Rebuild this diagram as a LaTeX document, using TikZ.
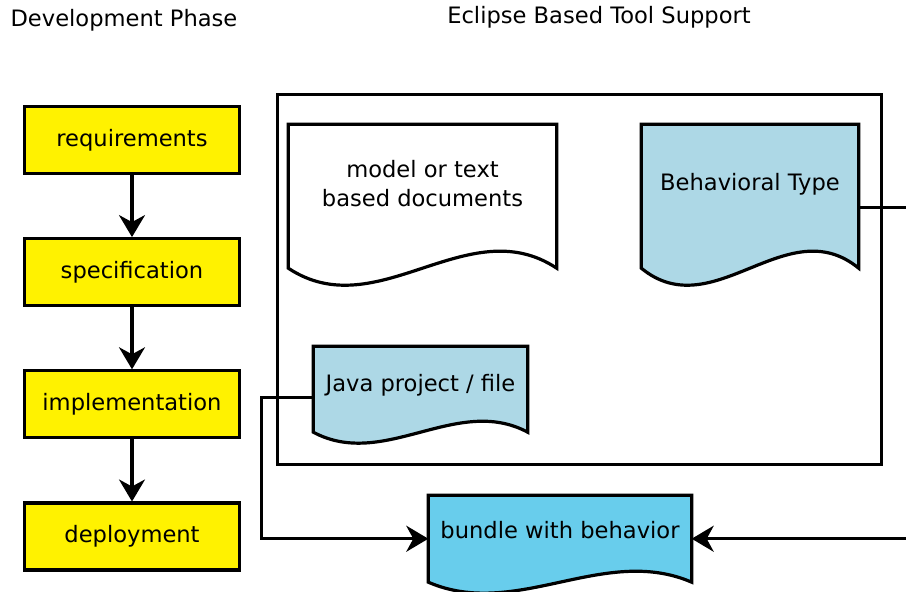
\documentclass[tikz,border=0pt]{standalone}
\usepackage{fontspec}
\setmainfont{DejaVu Sans}
\usetikzlibrary{positioning}
\usetikzlibrary{arrows.meta}

\definecolor{docblue}{RGB}{173,216,230}
\definecolor{bundleblue}{RGB}{104,205,236}

% document shape: straight top and sides, wavy bottom
\newcommand{\docshape}[4]{%
 \draw[line width=3.2pt,fill=#2](#1.north west)--(#1.north east)--(#1.south east)
  .. controls +(-#3,#4) and +(#3,-#4) .. (#1.south west)--cycle;}

\begin{document}
\begin{tikzpicture}[x=1pt,y=1pt,
  every node/.style={font=\fontsize{22.6}{29}\selectfont},
  phase/.style={draw,line width=3.2pt,fill=yellow,minimum width=215pt,minimum height=67pt},
  docbody/.style={inner sep=0pt},
  conn/.style={line width=3.2pt,-{Stealth[length=22pt,width=26pt,inset=7pt]}}]
 \clip (0,0) rectangle (906,592);

 % titles
 \node (devtitle) at (124,572) {Development Phase};
 \node (ecltitle) at (599,575) {Eclipse Based Tool Support};

 % development phases
 \node[phase] (req) at (132,452) {requirements};
 \node[phase,below=62pt of req] (spec) {specification};
 \node[phase,below=62pt of spec] (impl) {implementation};
 \node[phase,below=62pt of impl] (depl) {deployment};
 \draw[conn](req)--(spec);
 \draw[conn](spec)--(impl);
 \draw[conn](impl)--(depl);

 % eclipse frame
 \node[draw,line width=3.2pt,minimum width=604pt,minimum height=370pt] (eclipse) at (579.5,312.5) {};

 % documents
 \node[docbody,minimum width=268pt,minimum height=143.5pt] (modeldoc) at (422.5,395.75) {};
 \docshape{modeldoc}{white}{89}{59}
 \node[align=center] (modeltext) at ([yshift=12.75pt]modeldoc.center) {model or text\\based documents};

 \node[docbody,minimum width=217pt,minimum height=143.5pt] (btype) at (750,395.75) {};
 \docshape{btype}{docblue}{72}{59}
 \node (btypetext) at ([yshift=12pt]btype.center) {Behavioral Type};

 \node[docbody,minimum width=214pt,minimum height=85.5pt] (java) at (420.5,202.75) {};
 \docshape{java}{docblue}{71}{38}
 \node (javatext) at ([yshift=4pt]java.center) {Java project / file};

 \node[docbody,minimum width=263pt,minimum height=86.5pt] (bundle) at (560,53.25) {};
 \docshape{bundle}{bundleblue}{88}{38}
 \node (bundletext) at ([yshift=8.75pt]bundle.center) {bundle with behavior};

 % connectors
 \draw[conn]([yshift=-11pt]btype.east)--++(90,0)|-(bundle.east);
 \draw[conn]([yshift=-8pt]java.west)--++(-51.5,0)|-(bundle.west);
\end{tikzpicture}
\end{document}
